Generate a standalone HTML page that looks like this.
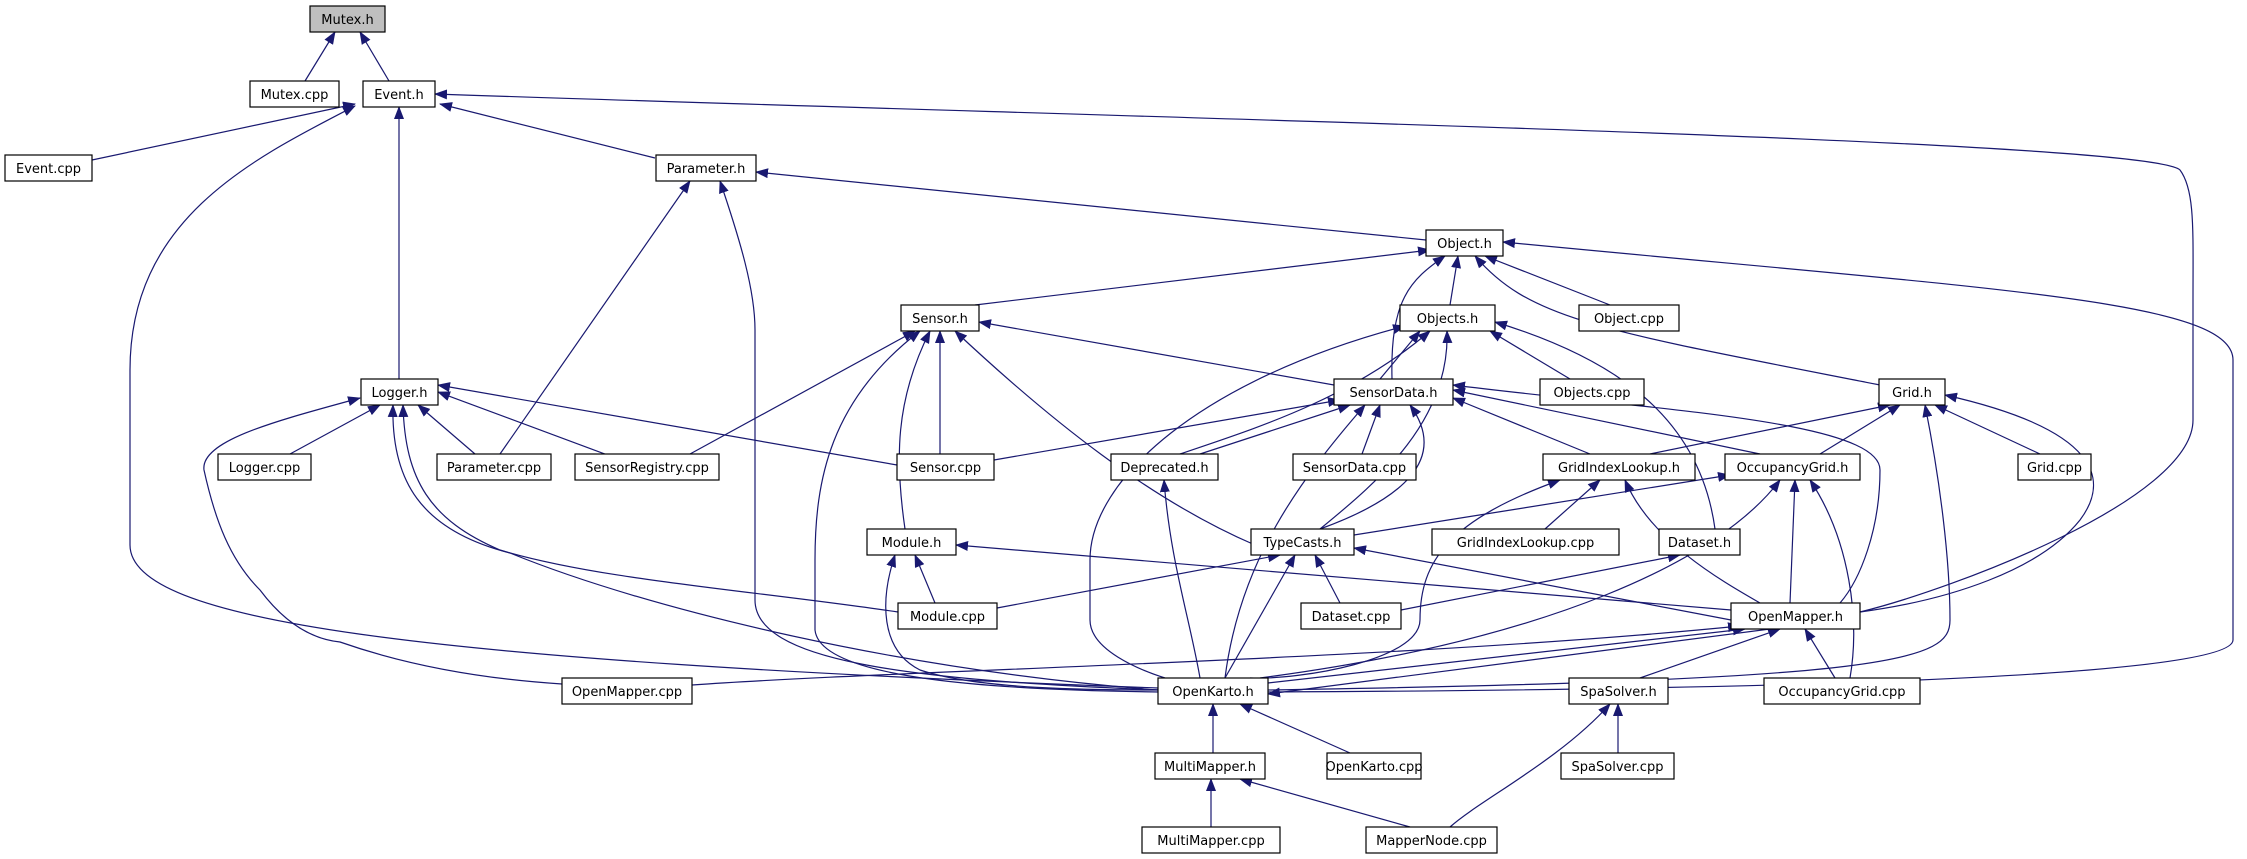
<!DOCTYPE html>
<html><head><meta charset="utf-8"><style>html,body{margin:0;padding:0;background:#fff}svg{display:block}text{font-family:"DejaVu Sans","Liberation Sans",sans-serif;font-size:13px;fill:#000;text-anchor:middle}g.e path{marker-start:url(#a)}</style></head><body>
<svg width="2247" height="859" viewBox="0 0 2247 859" xmlns="http://www.w3.org/2000/svg">
<defs><marker id="a" viewBox="0 0 13 10" refX="12" refY="5" markerWidth="13" markerHeight="10" markerUnits="userSpaceOnUse" orient="auto-start-reverse"><path d="M0,0 L13,5 L0,10 z" fill="#191970"/></marker></defs>
<g class="e" fill="none" stroke="#191970" stroke-width="1.2">
<path d="M335,32 L305,81" marker-start="url(#a)"/><path d="M360,32 L389,81" marker-start="url(#a)"/>
<path d="M355,104 L92,160" marker-start="url(#a)"/><path d="M399,107 L399,379" marker-start="url(#a)"/><path d="M440,104 L655,158" marker-start="url(#a)"/>
<path d="M355,106 C250,160 130,220 130,370 L130,545 C130,620 400,660 1158,688" marker-start="url(#a)"/>
<path d="M435,94 C1200,120 2150,140 2180,170 C2195,190 2193,230 2193,300 L2193,420 C2193,500 1950,590 1860,612" marker-start="url(#a)"/>
<path d="M690,181 L500,454" marker-start="url(#a)"/><path d="M720,181 C740,240 755,290 755,330 L755,600 C755,660 900,680 1160,690" marker-start="url(#a)"/>
<path d="M756,172 L1426,240" marker-start="url(#a)"/>
<path d="M1430,250 L975,305" marker-start="url(#a)"/><path d="M1458,256 L1450,305" marker-start="url(#a)"/><path d="M1485,256 L1610,305" marker-start="url(#a)"/>
<path d="M1445,256 C1410,280 1390,300 1392,379" marker-start="url(#a)"/>
<path d="M1475,256 C1530,320 1600,330 1880,385" marker-start="url(#a)"/>
<path d="M1503,242 C2000,290 2233,300 2233,360 L2233,640 C2233,680 1700,690 1268,692" marker-start="url(#a)"/>
<path d="M380,405 L290,454" marker-start="url(#a)"/><path d="M418,405 L475,454" marker-start="url(#a)"/><path d="M438,392 L605,454" marker-start="url(#a)"/><path d="M438,385 L897,465" marker-start="url(#a)"/>
<path d="M360,398 C280,420 200,440 204,470 C215,520 230,560 260,590 C290,630 320,640 340,642 C420,670 500,680 562,684" marker-start="url(#a)"/>
<path d="M403,405 C405,480 430,520 500,550 C600,580 750,590 898,612" marker-start="url(#a)"/>
<path d="M393,405 C391,480 420,530 510,553 C650,610 900,670 1158,690" marker-start="url(#a)"/>
<path d="M915,331 L690,454" marker-start="url(#a)"/><path d="M940,331 L940,454" marker-start="url(#a)"/><path d="M930,331 C895,400 895,460 905,529" marker-start="url(#a)"/>
<path d="M920,331 C830,400 815,480 815,560 L815,630 C820,680 1000,690 1160,692" marker-start="url(#a)"/>
<path d="M955,331 C1050,420 1150,500 1255,545" marker-start="url(#a)"/><path d="M979,322 L1334,385" marker-start="url(#a)"/>
<path d="M1420,331 L1380,379" marker-start="url(#a)"/><path d="M1490,331 L1570,379" marker-start="url(#a)"/>
<path d="M1430,331 C1350,400 1250,430 1180,454" marker-start="url(#a)"/>
<path d="M1447,331 C1450,420 1380,480 1320,529" marker-start="url(#a)"/>
<path d="M1495,322 C1620,360 1700,420 1715,529" marker-start="url(#a)"/>
<path d="M1405,326 C1200,380 1090,480 1090,560 L1090,620 C1090,650 1140,670 1165,678" marker-start="url(#a)"/>
<path d="M1340,400 L994,460" marker-start="url(#a)"/><path d="M1350,405 L1200,454" marker-start="url(#a)"/><path d="M1380,405 L1362,454" marker-start="url(#a)"/>
<path d="M1410,405 C1450,460 1400,500 1320,529" marker-start="url(#a)"/>
<path d="M1453,398 L1590,454" marker-start="url(#a)"/><path d="M1453,390 L1760,454" marker-start="url(#a)"/>
<path d="M1453,385 C1650,410 1880,420 1880,470 C1880,530 1860,580 1840,603" marker-start="url(#a)"/>
<path d="M1365,405 C1300,480 1240,560 1225,678" marker-start="url(#a)"/>
<path d="M1890,405 L1650,454" marker-start="url(#a)"/><path d="M1900,405 L1820,454" marker-start="url(#a)"/><path d="M1935,405 L2040,454" marker-start="url(#a)"/>
<path d="M1945,395 C2100,430 2110,480 2080,520 C2040,570 1950,600 1860,612" marker-start="url(#a)"/>
<path d="M1925,405 C1940,480 1950,560 1950,620 C1950,660 1900,680 1268,690" marker-start="url(#a)"/>
<path d="M1164,480 C1170,560 1190,620 1200,678" marker-start="url(#a)"/>
<path d="M1600,480 L1545,529" marker-start="url(#a)"/><path d="M1625,480 C1650,540 1720,580 1760,603" marker-start="url(#a)"/>
<path d="M1560,480 C1450,520 1420,560 1420,620 C1420,660 1300,680 1250,678" marker-start="url(#a)"/>
<path d="M1730,475 L1354,535" marker-start="url(#a)"/><path d="M1795,480 L1790,603" marker-start="url(#a)"/>
<path d="M1780,480 C1720,560 1550,640 1260,678" marker-start="url(#a)"/>
<path d="M1810,480 C1850,540 1860,620 1850,678" marker-start="url(#a)"/>
<path d="M915,555 L935,603" marker-start="url(#a)"/><path d="M895,555 C880,600 880,650 920,670 C980,690 1100,690 1158,690" marker-start="url(#a)"/>
<path d="M956,545 L1731,610" marker-start="url(#a)"/>
<path d="M1280,555 L997,608" marker-start="url(#a)"/><path d="M1315,555 L1340,603" marker-start="url(#a)"/><path d="M1295,555 L1225,678" marker-start="url(#a)"/><path d="M1354,548 L1731,620" marker-start="url(#a)"/>
<path d="M1680,555 L1401,610" marker-start="url(#a)"/>
<path d="M1740,626 C1400,660 900,670 692,685" marker-start="url(#a)"/>
<path d="M1745,629 L1268,683" marker-start="url(#a)"/><path d="M1268,694 L1770,629" marker-start="url(#a)"/>
<path d="M1780,629 L1640,678" marker-start="url(#a)"/><path d="M1805,629 L1835,678" marker-start="url(#a)"/>
<path d="M1213,704 L1213,753" marker-start="url(#a)"/><path d="M1240,704 L1350,753" marker-start="url(#a)"/>
<path d="M1618,704 L1618,753" marker-start="url(#a)"/><path d="M1610,704 C1560,760 1480,800 1450,827" marker-start="url(#a)"/>
<path d="M1211,779 L1211,827" marker-start="url(#a)"/><path d="M1240,779 L1410,827" marker-start="url(#a)"/>
</g>
<g stroke="#000" stroke-width="1.2" fill="#fff">
<rect x="310" y="6" width="75" height="26" fill="#bfbfbf"/>
<rect x="250" y="81" width="89" height="26"/><rect x="363" y="81" width="72" height="26"/>
<rect x="5" y="155" width="87" height="26"/><rect x="656" y="155" width="100" height="26"/>
<rect x="1426" y="230" width="77" height="26"/>
<rect x="901" y="305" width="78" height="26"/><rect x="1400" y="305" width="95" height="26"/><rect x="1579" y="305" width="100" height="26"/>
<rect x="361" y="379" width="77" height="26"/><rect x="1334" y="379" width="119" height="26"/><rect x="1540" y="379" width="104" height="26"/><rect x="1879" y="379" width="66" height="26"/>
<rect x="218" y="454" width="93" height="26"/><rect x="437" y="454" width="114" height="26"/><rect x="575" y="454" width="144" height="26"/><rect x="897" y="454" width="97" height="26"/><rect x="1111" y="454" width="107" height="26"/><rect x="1293" y="454" width="123" height="26"/><rect x="1543" y="454" width="152" height="26"/><rect x="1725" y="454" width="135" height="26"/><rect x="2018" y="454" width="73" height="26"/>
<rect x="867" y="529" width="89" height="26"/><rect x="1251" y="529" width="103" height="26"/><rect x="1432" y="529" width="187" height="26"/><rect x="1659" y="529" width="81" height="26"/>
<rect x="898" y="603" width="99" height="26"/><rect x="1301" y="603" width="100" height="26"/><rect x="1731" y="603" width="129" height="26"/>
<rect x="562" y="678" width="130" height="26"/><rect x="1158" y="678" width="110" height="26"/><rect x="1569" y="678" width="99" height="26"/><rect x="1764" y="678" width="156" height="26"/>
<rect x="1155" y="753" width="110" height="26"/><rect x="1327" y="753" width="94" height="26"/><rect x="1561" y="753" width="113" height="26"/>
<rect x="1142" y="827" width="138" height="26"/><rect x="1366" y="827" width="131" height="26"/>
</g>
<g>
<text x="347.5" y="24">Mutex.h</text>
<text x="294.5" y="99">Mutex.cpp</text><text x="399" y="99">Event.h</text>
<text x="48.5" y="173">Event.cpp</text><text x="706" y="173">Parameter.h</text>
<text x="1464.5" y="248">Object.h</text>
<text x="940" y="323">Sensor.h</text><text x="1447.5" y="323">Objects.h</text><text x="1629" y="323">Object.cpp</text>
<text x="399.5" y="397">Logger.h</text><text x="1393.5" y="397">SensorData.h</text><text x="1592" y="397">Objects.cpp</text><text x="1912" y="397">Grid.h</text>
<text x="264.5" y="472">Logger.cpp</text><text x="494" y="472">Parameter.cpp</text><text x="647" y="472">SensorRegistry.cpp</text><text x="945.5" y="472">Sensor.cpp</text><text x="1164.5" y="472">Deprecated.h</text><text x="1354.5" y="472">SensorData.cpp</text><text x="1619" y="472">GridIndexLookup.h</text><text x="1792.5" y="472">OccupancyGrid.h</text><text x="2054.5" y="472">Grid.cpp</text>
<text x="911.5" y="547">Module.h</text><text x="1302.5" y="547">TypeCasts.h</text><text x="1525.5" y="547">GridIndexLookup.cpp</text><text x="1699.5" y="547">Dataset.h</text>
<text x="947.5" y="621">Module.cpp</text><text x="1351" y="621">Dataset.cpp</text><text x="1795.5" y="621">OpenMapper.h</text>
<text x="627" y="696">OpenMapper.cpp</text><text x="1213" y="696">OpenKarto.h</text><text x="1618.5" y="696">SpaSolver.h</text><text x="1842" y="696">OccupancyGrid.cpp</text>
<text x="1210" y="771">MultiMapper.h</text><text x="1374" y="771">OpenKarto.cpp</text><text x="1617.5" y="771">SpaSolver.cpp</text>
<text x="1211" y="845">MultiMapper.cpp</text><text x="1431.5" y="845">MapperNode.cpp</text>
</g>
</svg>
</body></html>
